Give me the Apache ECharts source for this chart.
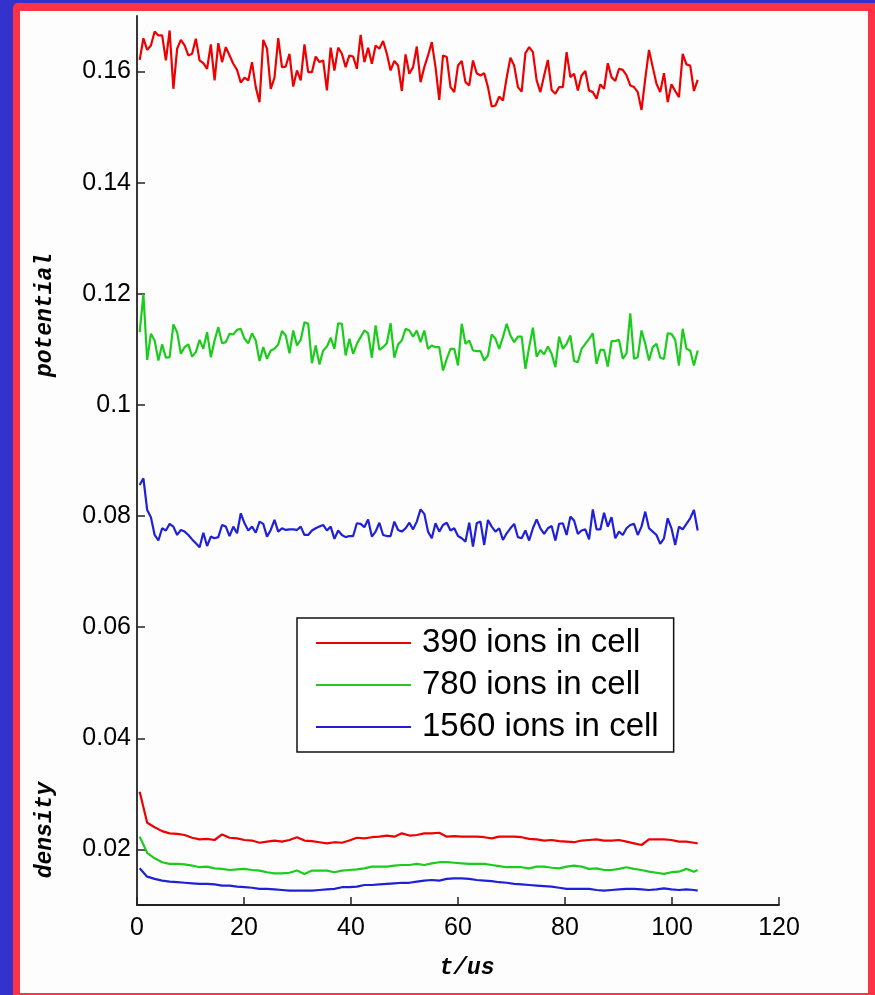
<!DOCTYPE html>
<html>
<head>
<meta charset="utf-8">
<script src="https://cdn.jsdelivr.net/npm/echarts@6/dist/echarts.min.js"></script>
<style>
html,body{margin:0;padding:0;width:875px;height:995px;overflow:hidden;background:#3333cc;}
#red{position:absolute;left:13px;top:3px;width:862px;height:992px;background:#ff3344;border-top-left-radius:5px;}
#paper{position:absolute;left:20px;top:11px;width:848px;height:982px;background:#fdfdfd;}
#chart{position:absolute;left:0;top:0;width:875px;height:995px;}
</style>
</head>
<body>
<div id="red"></div>
<div id="paper"></div>
<div id="chart"></div>
<script>
const seriesNames = ['390 ions in cell', '780 ions in cell', '1560 ions in cell'];
const xTicks = [0, 20, 40, 60, 80, 100, 120];
const yTicks = [0.02, 0.04, 0.06, 0.08, 0.1, 0.12, 0.14, 0.16];

const tPot = [0.5,1.2,1.9,2.6,3.3,4.0,4.7,5.4,6.1,6.8,
7.5,8.2,8.9,9.6,10.3,11.0,11.7,12.4,13.1,13.8,
14.5,15.2,15.9,16.6,17.3,18.0,18.7,19.4,20.1,20.8,
21.5,22.2,22.9,23.6,24.3,25.0,25.7,26.4,27.1,27.8,
28.5,29.2,29.9,30.6,31.3,32.0,32.7,33.4,34.1,34.8,
35.5,36.2,36.9,37.6,38.3,39.0,39.7,40.4,41.1,41.8,
42.5,43.2,43.9,44.6,45.3,46.0,46.7,47.4,48.1,48.8,
49.5,50.2,50.9,51.6,52.3,53.0,53.7,54.4,55.1,55.8,
56.5,57.2,57.9,58.6,59.3,60.0,60.7,61.4,62.1,62.8,
63.5,64.2,64.9,65.6,66.3,67.0,67.7,68.4,69.1,69.8,
70.5,71.2,71.9,72.6,73.3,74.0,74.7,75.4,76.1,76.8,
77.5,78.2,78.9,79.6,80.3,81.0,81.7,82.4,83.1,83.8,
84.5,85.2,85.9,86.6,87.3,88.0,88.7,89.4,90.1,90.8,
91.5,92.2,92.9,93.6,94.3,95.0,95.7,96.4,97.1,97.8,
98.5,99.2,99.9,100.6,101.3,102.0,102.7,103.4,104.1,104.8];

const redPot = [0.1621,0.1660,0.1639,0.1647,0.1672,0.1665,0.1665,0.1620,0.1674,0.1569,
0.1641,0.1657,0.1647,0.1629,0.1632,0.1659,0.1620,0.1615,0.1605,0.1649,
0.1584,0.1651,0.1617,0.1644,0.1629,0.1614,0.1603,0.1580,0.1589,0.1584,
0.1617,0.1572,0.1545,0.1657,0.1641,0.1569,0.1589,0.1660,0.1608,0.1609,
0.1632,0.1573,0.1602,0.1584,0.1649,0.1599,0.1599,0.1627,0.1617,0.1620,
0.1566,0.1643,0.1602,0.1643,0.1632,0.1608,0.1629,0.1627,0.1605,0.1666,
0.1617,0.1643,0.1614,0.1647,0.1641,0.1655,0.1632,0.1602,0.1619,0.1611,
0.1565,0.1631,0.1596,0.1608,0.1645,0.1581,0.1608,0.1629,
0.1653,0.1608,0.1549,0.1629,0.1626,0.1572,0.1563,0.1611,0.1619,0.1581,
0.1575,0.1620,0.1597,0.1593,0.1597,0.1572,0.1537,0.1539,0.1555,0.1548,
0.1589,0.1625,0.1611,0.1572,0.1564,0.1633,0.1644,0.1635,0.1584,0.1563,
0.1593,0.1621,0.1567,0.1560,0.1572,0.1572,0.1635,0.1590,0.1596,0.1566,
0.1593,0.1601,0.1566,0.1563,0.1551,0.1577,0.1569,0.1615,0.1590,0.1583,
0.1605,0.1603,0.1593,0.1575,0.1572,0.1563,0.1531,0.1587,0.1639,0.1608,
0.1578,0.1563,0.1597,0.1545,0.1577,0.1565,0.1554,0.1632,0.1613,0.1611,
0.1565,0.1585];

const greenPot = [0.1131,0.1199,0.1081,0.1128,0.1116,0.1080,0.1109,0.1085,0.1086,0.1145,
0.1131,0.1092,0.1104,0.1109,0.1087,0.1095,0.1117,0.1101,0.1131,0.1086,
0.1116,0.1140,0.1111,0.1113,0.1128,0.1127,0.1135,0.1137,0.1119,0.1111,
0.1129,0.1116,0.1079,0.1104,0.1083,0.1098,0.1101,0.1109,0.1133,0.1125,
0.1093,0.1134,0.1107,0.1117,0.1149,0.1146,0.1075,0.1107,0.1073,0.1098,
0.1105,0.1121,0.1101,0.1147,0.1146,0.1089,0.1119,0.1092,0.1110,0.1122,
0.1134,0.1129,0.1085,0.1143,0.1099,0.1104,0.1111,0.1147,0.1085,0.1109,
0.1116,0.1137,0.1134,0.1123,0.1134,0.1113,0.1134,0.1101,
0.1107,0.1104,0.1104,0.1062,0.1083,0.1101,0.1101,0.1071,0.1146,0.1110,
0.1116,0.1098,0.1097,0.1097,0.1080,0.1089,0.1127,0.1119,0.1101,0.1122,
0.1146,0.1125,0.1113,0.1123,0.1123,0.1065,0.1104,0.1139,0.1087,0.1099,
0.1091,0.1105,0.1092,0.1068,0.1123,0.1101,0.1110,0.1125,0.1079,0.1077,
0.1101,0.1110,0.1119,0.1129,0.1074,0.1099,0.1099,0.1069,0.1115,0.1115,
0.1117,0.1083,0.1093,0.1165,0.1083,0.1086,0.1134,0.1110,0.1080,0.1104,
0.1110,0.1085,0.1083,0.1129,0.1128,0.1117,0.1071,0.1137,0.1101,0.1098,
0.1071,0.1098];

const bluePot = [0.0856,0.0868,0.0811,0.0798,0.0766,0.0756,0.0778,0.0774,0.0786,0.0781,
0.0766,0.0775,0.0772,0.0766,0.0758,0.0751,0.0744,0.0770,0.0746,0.0763,
0.0760,0.0762,0.0784,0.0781,0.0764,0.0781,0.0769,0.0805,0.0787,0.0774,
0.0781,0.0770,0.0790,0.0786,0.0763,0.0775,0.0793,0.0772,0.0778,0.0775,
0.0776,0.0776,0.0775,0.0781,0.0766,0.0766,0.0774,0.0778,0.0781,0.0784,
0.0774,0.0781,0.0759,0.0774,0.0766,0.0762,0.0764,0.0764,0.0787,0.0786,
0.0780,0.0794,0.0763,0.0772,0.0788,0.0766,0.0764,0.0764,0.0790,0.0775,
0.0772,0.0778,0.0788,0.0776,0.0790,0.0812,0.0804,0.0772,
0.0760,0.0787,0.0772,0.0784,0.0788,0.0774,0.0778,0.0764,0.0760,0.0754,
0.0788,0.0745,0.0787,0.0790,0.0748,0.0793,0.0781,0.0772,0.0778,0.0757,
0.0769,0.0778,0.0786,0.0762,0.0760,0.0774,0.0756,0.0778,0.0794,0.0778,
0.0768,0.0778,0.0782,0.0756,0.0786,0.0787,0.0766,0.0799,0.0792,0.0768,
0.0774,0.0776,0.0758,0.0812,0.0776,0.0776,0.0806,0.0781,0.0798,0.0760,
0.0772,0.0766,0.0778,0.0784,0.0786,0.0766,0.0781,0.0808,0.0778,0.0772,
0.0766,0.0750,0.0760,0.0796,0.0778,0.0748,0.0781,0.0776,0.0786,0.0796,
0.0811,0.0774];

const tDen = [0.5,1.9,3.3,4.7,6.1,7.5,8.9,10.3,11.7,13.1,
14.5,15.9,17.3,18.7,20.1,21.5,22.9,24.3,25.7,27.1,
28.5,29.9,31.3,32.7,34.1,35.5,36.9,38.3,39.7,41.1,
42.5,43.9,45.3,46.7,48.1,49.5,50.9,52.3,53.7,55.1,
56.5,57.9,59.3,60.7,62.1,63.5,64.9,66.3,67.7,69.1,
70.5,71.9,73.3,74.7,76.1,77.5,78.9,80.3,81.7,83.1,
84.5,85.9,87.3,88.7,90.1,91.5,92.9,94.3,95.7,97.1,
98.5,99.9,101.3,102.7,104.1,104.8];

const redDen = [0.0304,0.0248,0.0240,0.0233,0.0229,0.0228,0.0226,0.0221,0.0218,0.0219,
0.0217,0.0227,0.0221,0.0220,0.0217,0.0216,0.0212,0.0214,0.0216,0.0214,
0.0217,0.0222,0.0216,0.0215,0.0213,0.0211,0.0213,0.0212,0.0216,0.0221,
0.0220,0.0222,0.0223,0.0225,0.0223,0.0229,0.0225,0.0226,0.0229,
0.0229,0.0230,0.0223,0.0224,0.0223,0.0223,0.0223,0.0222,0.0220,0.0223,
0.0223,0.0223,0.0222,0.0219,0.0218,0.0216,0.0217,0.0215,0.0214,0.0213,
0.0216,0.0217,0.0218,0.0216,0.0216,0.0217,0.0214,0.0211,0.0208,0.0218,
0.0218,0.0218,0.0217,0.0214,0.0214,0.0212,0.0211];

const greenDen = [0.0223,0.0194,0.0184,0.0177,0.0174,0.0174,0.0173,0.0171,0.0168,0.0169,
0.0166,0.0165,0.0163,0.0164,0.0165,0.0163,0.0162,0.0159,0.0157,0.0157,
0.0158,0.0162,0.0156,0.0162,0.0162,0.0162,0.0159,0.0162,0.0163,0.0164,
0.0166,0.0169,0.0169,0.0169,0.0171,0.0172,0.0172,0.0174,0.0172,
0.0175,0.0177,0.0177,0.0176,0.0175,0.0174,0.0174,0.0174,0.0172,0.0170,
0.0168,0.0168,0.0168,0.0166,0.0169,0.0169,0.0167,0.0166,0.0169,0.0171,
0.0169,0.0165,0.0166,0.0163,0.0163,0.0165,0.0168,0.0165,0.0163,0.0160,
0.0158,0.0156,0.0159,0.0160,0.0165,0.0160,0.0163];

const blueDen = [0.0166,0.0151,0.0147,0.0144,0.0142,0.0141,0.0140,0.0139,0.0138,0.0138,
0.0137,0.0135,0.0135,0.0133,0.0132,0.0131,0.0129,0.0129,0.0128,0.0127,
0.0126,0.0126,0.0126,0.0126,0.0127,0.0128,0.0129,0.0132,0.0132,0.0133,
0.0136,0.0136,0.0137,0.0138,0.0139,0.0140,0.0140,0.0142,0.0144,
0.0145,0.0144,0.0147,0.0148,0.0148,0.0147,0.0145,0.0144,0.0143,0.0141,
0.0140,0.0138,0.0137,0.0136,0.0135,0.0134,0.0133,0.0131,0.0129,0.0129,
0.0129,0.0129,0.0127,0.0126,0.0127,0.0128,0.0129,0.0129,0.0128,0.0127,
0.0128,0.0130,0.0128,0.0127,0.0128,0.0127,0.0126];

const colors = ['#ee0000', '#1ccc1c', '#2020d8'];

function pairs(ts, vs) { return ts.map((t, i) => [t, vs[i]]); }
function lineSeries(name, color, data) {
  return {
    type: 'line', name: name, data: data, showSymbol: false, symbol: 'none',
    color: color, lineStyle: { color: color, width: 2.2 }, animation: false
  };
}

const chart = echarts.init(document.getElementById('chart'), null, { renderer: 'canvas' });
const tickFont = { fontSize: 25, fontFamily: 'Liberation Sans, Arial, sans-serif', color: '#000' };
const titleFont = { fontSize: 23, fontFamily: 'Liberation Mono, monospace', fontStyle: 'italic', fontWeight: 'bold', fill: '#000' };

chart.setOption({
  backgroundColor: 'transparent',
  animation: false,
  grid: { left: 137, top: 16, width: 642, height: 889, containLabel: false },
  xAxis: {
    type: 'value', min: 0, max: 120, interval: 20,
    axisLine: { show: true, onZero: false, lineStyle: { color: '#222', width: 1.8 } },
    axisTick: { show: true, inside: true, length: 8, lineStyle: { color: '#222', width: 1.5 } },
    axisLabel: Object.assign({ margin: 11, customValues: xTicks }, tickFont),
    splitLine: { show: false }
  },
  yAxis: {
    type: 'value', min: 0.01, max: 0.17,
    axisLine: { show: true, onZero: false, lineStyle: { color: '#222', width: 1.8 } },
    axisTick: { show: true, inside: true, length: 8, customValues: yTicks, lineStyle: { color: '#222', width: 1.5 } },
    axisLabel: Object.assign({ margin: 6, customValues: yTicks, formatter: v => String(+(+v).toFixed(2)) }, tickFont),
    splitLine: { show: false }
  },
  legend: {
    orient: 'vertical', left: 297, top: 618,
    data: seriesNames, icon: 'rect', itemWidth: 95, itemHeight: 2, itemGap: 6,
    padding: [7, 15, 7, 19], borderColor: '#111', borderWidth: 1.5, backgroundColor: '#fff',
    selectedMode: false,
    textStyle: { fontSize: 33, fontFamily: 'Liberation Sans, Arial, sans-serif', color: '#000', lineHeight: 36, padding: [0, 0, 0, 6] }
  },
  graphic: [
    { type: 'text', x: 45, y: 315, rotation: Math.PI / 2, style: Object.assign({ text: 'potential', align: 'center', verticalAlign: 'middle' }, titleFont) },
    { type: 'text', x: 45, y: 830, rotation: Math.PI / 2, style: Object.assign({ text: 'density', align: 'center', verticalAlign: 'middle' }, titleFont) },
    { type: 'text', x: 467, y: 968, style: Object.assign({ text: 't/us', align: 'center', verticalAlign: 'middle' }, titleFont) }
  ],
  series: [
    lineSeries(seriesNames[0], colors[0], pairs(tPot, redPot)),
    lineSeries(seriesNames[1], colors[1], pairs(tPot, greenPot)),
    lineSeries(seriesNames[2], colors[2], pairs(tPot, bluePot)),
    lineSeries(seriesNames[0], colors[0], pairs(tDen, redDen)),
    lineSeries(seriesNames[1], colors[1], pairs(tDen, greenDen)),
    lineSeries(seriesNames[2], colors[2], pairs(tDen, blueDen))
  ]
});
</script>
</body>
</html>
